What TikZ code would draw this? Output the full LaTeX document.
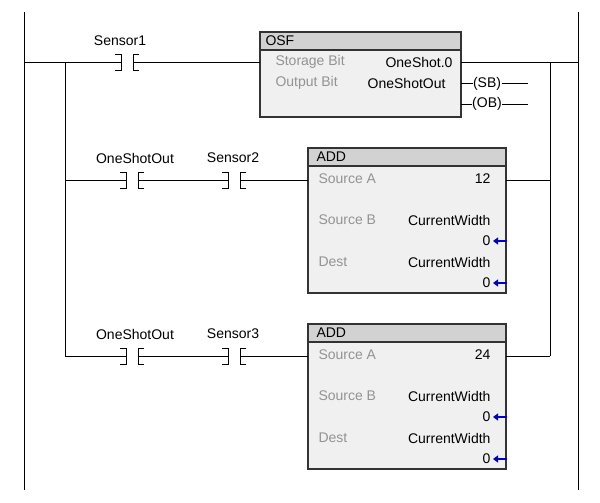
\documentclass[tikz,border=0pt]{standalone}
\usepackage{fontspec}
\setmainfont{Liberation Sans}
\usetikzlibrary{arrows.meta}
\begin{document}
\begin{tikzpicture}[x=1pt,y=-1pt,line width=1pt,
  lbl/.style={font=\fontsize{14}{16}\selectfont,inner sep=0pt},
  glbl/.style={lbl,text=gray!85,anchor=west},
  box/.style={draw=black!80,fill=gray!12,line width=1.2pt},
  hdr/.style={draw=black!80,fill=gray!35,line width=1.2pt},
  barr/.style={draw=blue!80!black,line width=2pt,-{Triangle[length=5pt,width=7pt]}}]
\useasboundingbox (0,0) rectangle (600,503);
% rails
\coordinate (lt) at (24,12); \coordinate (lb) at (24,490);
\coordinate (rt) at (578,12); \coordinate (rb) at (578,490);
\draw (lt) -- (lb); \draw (rt) -- (rb);
% contact macro
\newcommand\contact[5]{% name, x, y, label, label x
  \coordinate (#1L) at (#2,#3); \coordinate (#1R) at (#2+12,#3);
  \draw (#2-6,#3-8) -- (#2,#3-8) -- (#2,#3+8) -- (#2-6,#3+8);
  \draw (#2+18,#3-8) -- (#2+12,#3-8) -- (#2+12,#3+8) -- (#2+18,#3+8);
  \node[lbl] (#1T) at (#5,#3-22) {#4};}
% ---------- rung 1
\contact{ca}{121}{63}{Sensor1}{120}
\draw[hdr] (260,32) rectangle (461,50);
\draw[box] (260,50) rectangle (461,117);
\node[lbl,anchor=west] (osf) at (265,41) {OSF};
\coordinate (osfL) at (260,63); \coordinate (osfR) at (461,63);
\node[glbl] (sb) at (275,62) {Storage Bit};
\node[lbl,anchor=east] (sbv) at (453,62) {OneShot.0};
\node[glbl] (ob) at (275,83) {Output Bit};
\node[lbl,anchor=east] (obv) at (446,83) {OneShotOut};
\draw (lt|-osfL) -- (caL); \draw (caR) -- (osfL);
\draw (osfR) -- (rt|-osfR);
\node[lbl] (coil1) at (487,84) {(SB)};
\node[lbl] (coil2) at (487,104) {(OB)};
\draw (461,84) -- (coil1.west); \draw (coil1.east) -- (528,84);
\draw (461,104) -- (coil2.west); \draw (coil2.east) -- (528,104);
% branches
\coordinate (bl1) at (65,63); \coordinate (bl3) at (65,356);
\coordinate (br1) at (550,63); \coordinate (br3) at (550,356);
\draw (bl1) -- (bl3); \draw (br1) -- (br3);
% ---------- rung 2 & 3
\foreach \y/\s/\v/\n in {180/Sensor2/12/b, 356/Sensor3/24/c}{
  \contact{\n1}{126}{\y}{OneShotOut}{135}
  \contact{\n2}{228}{\y}{\s}{233}
  \draw[hdr] (308,\y-32) rectangle (506,\y-14);
  \draw[box] (308,\y-14) rectangle (506,\y+113);
  \node[lbl,anchor=west] (\n h) at (316,\y-23) {ADD};
  \node[glbl] (\n sa) at (318,\y-1) {Source A};
  \node[lbl,anchor=east] (\n sav) at (491,\y-1) {\v};
  \node[glbl] (\n sbl) at (318,\y+40) {Source B};
  \node[lbl,anchor=east] (\n sbv) at (491,\y+40) {CurrentWidth};
  \node[lbl,anchor=east] (\n sb0) at (491,\y+61) {0};
  \node[glbl] (\n dl) at (318,\y+82) {Dest};
  \node[lbl,anchor=east] (\n dv) at (491,\y+82) {CurrentWidth};
  \node[lbl,anchor=east] (\n d0) at (491,\y+103) {0};
  \draw[barr] (507,\y+61) -- (493,\y+61);
  \draw[barr] (507,\y+103) -- (493,\y+103);
  \coordinate (\n L) at (308,\y); \coordinate (\n R) at (506,\y);
  \draw (65,\y) -- (\n1L); \draw (\n1R) -- (\n2L); \draw (\n2R) -- (\n L);
  \draw (\n R) -- (550,\y);
}
\end{tikzpicture}
\end{document}
